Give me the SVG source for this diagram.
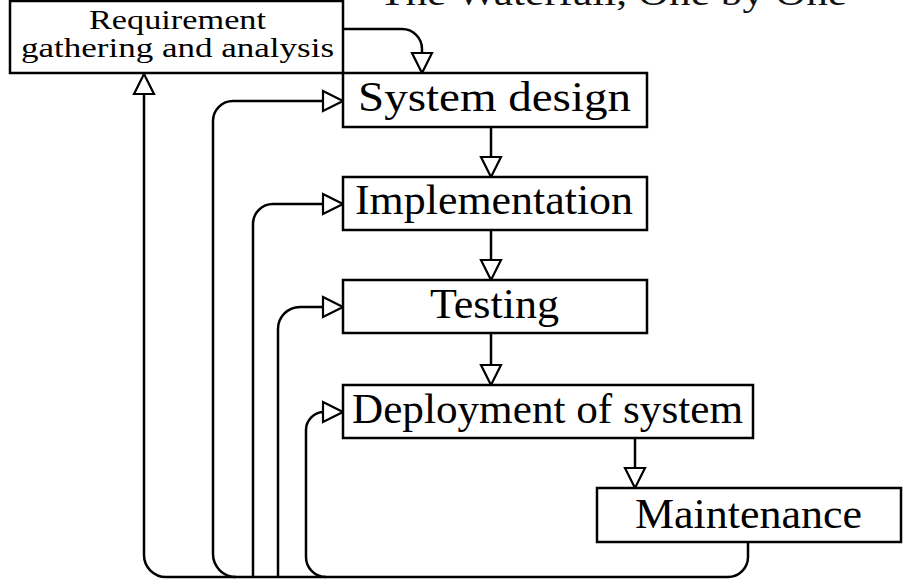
<svg xmlns="http://www.w3.org/2000/svg" width="912" height="582" viewBox="0 0 912 582">
<style>
.box{fill:#fff;stroke:#000;stroke-width:2.5}
.lbl{font-family:"Liberation Serif","DejaVu Serif",serif;fill:#000;text-anchor:start}
.big{font-size:43px}
.small{font-size:28px}
.con{fill:none;stroke:#000;stroke-width:2.5}
</style>
<defs>
<marker id="open" markerUnits="userSpaceOnUse" markerWidth="24" markerHeight="24" refX="20" refY="10" orient="auto" viewBox="-2 -2 24 24">
<path d="M0,0 L20,10 L0,20 Z" fill="#fff" stroke="#000" stroke-width="2.2" stroke-linejoin="miter"/>
</marker>
</defs>
<rect width="912" height="582" fill="#fff"/>
<text x="379" y="5" font-family="'Liberation Serif',serif" font-size="36" fill="#111" textLength="468" lengthAdjust="spacingAndGlyphs">The Waterfall, One by One</text>

<g id="connectors">
<path class="con" d="M343,29 H402 A20,20 0 0 1 422,49 V73" marker-end="url(#open)"/>
<path class="con" d="M491,127 V177" marker-end="url(#open)"/>
<path class="con" d="M491,230 V280" marker-end="url(#open)"/>
<path class="con" d="M491,333 V385" marker-end="url(#open)"/>
<path class="con" d="M635,438 V488" marker-end="url(#open)"/>
<path class="con" d="M748,542 V557 A20,20 0 0 1 728,577 H166 A22,22 0 0 1 144,555 V74" marker-end="url(#open)"/>
<path class="con" d="M236,577 A23,23 0 0 1 213,554 V121 A20,20 0 0 1 233,101 H343" marker-end="url(#open)"/>
<path class="con" d="M253,577 V224 A20,20 0 0 1 273,204 H343" marker-end="url(#open)"/>
<path class="con" d="M278,577 V329 A22,22 0 0 1 300,307 H343" marker-end="url(#open)"/>
<path class="con" d="M326,577 A20,20 0 0 1 306,557 V430 A18,18 0 0 1 324,412 H343" marker-end="url(#open)"/>
</g>

<g id="req">
<rect class="box" x="10" y="1" width="333" height="72"/>
<text class="lbl small" x="89" y="29" textLength="177" lengthAdjust="spacingAndGlyphs">Requirement</text>
<text class="lbl small" x="21" y="57" textLength="313" lengthAdjust="spacingAndGlyphs">gathering and analysis</text>
</g>
<g id="sysdesign">
<rect class="box" x="343" y="73" width="304" height="54"/>
<text class="lbl big" x="358" y="111" textLength="273" lengthAdjust="spacingAndGlyphs">System design</text>
</g>
<g id="impl">
<rect class="box" x="343" y="177" width="304" height="53"/>
<text class="lbl big" x="355" y="214" textLength="278" lengthAdjust="spacingAndGlyphs">Implementation</text>
</g>
<g id="testing">
<rect class="box" x="343" y="280" width="304" height="53"/>
<text class="lbl big" x="430" y="318" textLength="129" lengthAdjust="spacingAndGlyphs">Testing</text>
</g>
<g id="deploy">
<rect class="box" x="343" y="385" width="410" height="53"/>
<text class="lbl big" x="352" y="423" textLength="391" lengthAdjust="spacingAndGlyphs">Deployment of system</text>
</g>
<g id="maint">
<rect class="box" x="597" y="488" width="304" height="54"/>
<text class="lbl big" x="635" y="528" textLength="227" lengthAdjust="spacingAndGlyphs">Maintenance</text>
</g>
</svg>
